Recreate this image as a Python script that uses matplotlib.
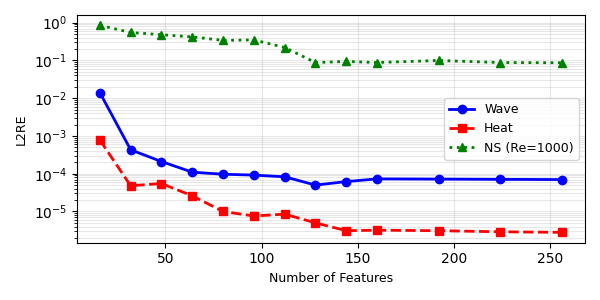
#!/usr/bin/env python3.12
"""L2RE vs number of features for Wave, Heat and NS."""

import matplotlib
matplotlib.use("Agg")
import matplotlib.pyplot as plt

features = [16, 32, 48, 64, 80, 96, 112, 128, 144, 160, 192, 224, 256]
wave = [1.4e-2, 4.3e-4, 2.1e-4, 1.1e-4, 9.7e-5, 9.2e-5, 8.3e-5, 5.0e-5,
        6.2e-5, 7.3e-5, 7.2e-5, 7.1e-5, 7.0e-5]
heat = [7.8e-4, 4.8e-5, 5.5e-5, 2.6e-5, 1.0e-5, 7.6e-6, 8.5e-6, 5.0e-6,
        3.1e-6, 3.2e-6, 3.1e-6, 2.9e-6, 2.8e-6]
ns = [0.85, 0.55, 0.48, 0.42, 0.34, 0.35, 0.22, 0.088, 0.094, 0.088,
      0.10, 0.088, 0.087]


def main() -> None:
    fig, ax = plt.subplots(figsize=(6, 3), dpi=100)

    ax.plot(features, wave, "o-", color="blue", lw=2, label="Wave")
    ax.plot(features, heat, "s--", color="red", lw=2, label="Heat")
    ax.plot(features, ns, "^:", color="green", lw=2, label="NS (Re=1000)")

    ax.set_yscale("log")
    ax.set_xlabel("Number of Features", fontsize=9)
    ax.set_ylabel("L2RE", fontsize=9)
    ax.grid(True, which="both", alpha=0.3)
    ax.legend(fontsize=9)

    fig.tight_layout()
    fig.savefig("out.png")


if __name__ == "__main__":
    main()
